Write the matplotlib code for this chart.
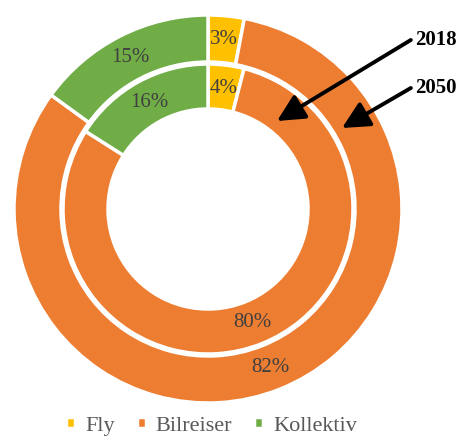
import matplotlib.pyplot as plt

categories = ['Fly', 'Bilreiser', 'Kollektiv']
share_2050 = [3, 82, 15]
share_2018 = [4, 80, 16]
colors = ['#FFC000', '#ED7D31', '#70AD47']

serif = ['Liberation Serif', 'DejaVu Serif']
plt.rcParams['font.family'] = serif

fig = plt.figure(figsize=(4.65, 4.36), dpi=100)
ax = fig.add_axes([0, 0, 1, 1])

cx, cy = 208, 227
text_style = dict(color='#404040', fontsize=15, family=serif)

# outer ring (2050)
outer, _, _ = ax.pie(share_2050, colors=colors, radius=194, center=(cx, cy),
                     startangle=90, counterclock=False, frame=True,
                     autopct='%1.0f%%', pctdistance=0.879, textprops=text_style,
                     wedgeprops=dict(width=47, edgecolor='white', linewidth=2.5))

# inner ring (2018)
ax.pie(share_2018, colors=colors, radius=145, center=(cx, cy),
       startangle=90, counterclock=False, frame=True,
       autopct='%1.0f%%', pctdistance=0.84, textprops=text_style,
       wedgeprops=dict(width=45, edgecolor='white', linewidth=2.5))

ax.set_xlim(0, 465)
ax.set_ylim(0, 436)
ax.set_aspect('equal')
ax.axis('off')

arrow = dict(arrowstyle='-|>,head_length=1.1,head_width=0.55', color='black',
             lw=2.8, shrinkA=0, shrinkB=0)
ax.annotate('2018', xy=(277, 436 - 121), xytext=(415, 436 - 40),
            fontsize=15, fontweight='bold', va='center', ha='left', family=serif,
            arrowprops=dict(arrow, relpos=(-0.1, 0.5)))
ax.annotate('2050', xy=(342, 436 - 128), xytext=(415, 436 - 88),
            fontsize=15, fontweight='bold', va='center', ha='left', family=serif,
            arrowprops=dict(arrow, relpos=(-0.1, 0.5)))

fig.legend(outer, categories, loc='lower center', bbox_to_anchor=(0.455, -0.045),
           ncol=3, frameon=False, prop=dict(family=serif, size=16),
           labelcolor='#595959',
           handlelength=0.4, handleheight=0.4, handletextpad=0.45,
           columnspacing=1.0)

fig.savefig('out.png', dpi=100)
